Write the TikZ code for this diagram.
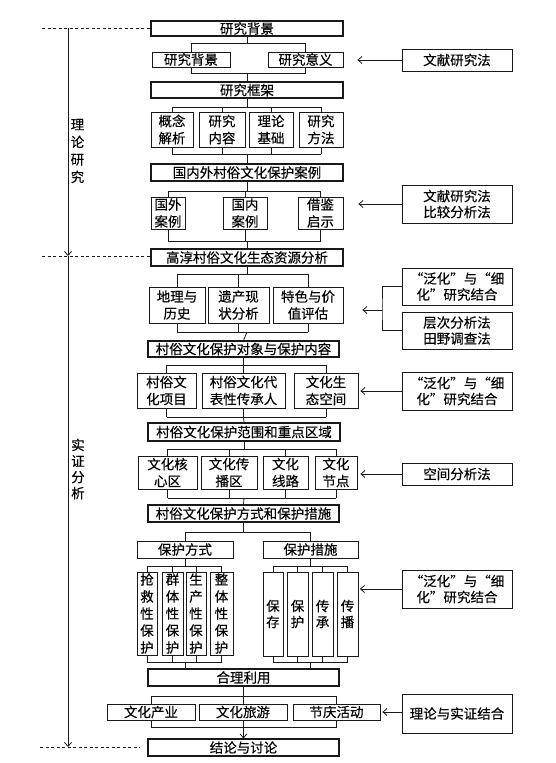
\documentclass[tikz,border=0pt]{standalone}
\usepackage{fontspec}
\newfontfamily\cjk[FakeBold=0.3]{Noto Sans CJK SC}
\usetikzlibrary{arrows.meta,calc}
\pgfdeclarelayer{bg}
\pgfdeclarelayer{conn}
\pgfsetlayers{bg,conn,main}
\newcommand\mybox[7]{\node[#2, minimum width={#5-#3}, minimum height={#6-#4}] (#1) at ({(#3+#5)/2},{(#4+#6)/2}) {#7};}
\begin{document}
\begin{tikzpicture}[x=1pt,y=-1pt,
 line/.style={line width=0.8pt, draw=black!90},
 box/.style={draw=black!90, line width=0.8pt, fill=white, inner sep=0pt, align=center, text=black, font=\cjk\fontsize{13.5}{17}\selectfont},
 mbox/.style={box, line width=1.1pt},
 tbox/.style={box, line width=1.5pt},
 meth/.style={box, font=\cjk\fontsize{13.5}{16}\selectfont},
 wbox/.style={box, font=\cjk\fontsize{13.5}{16}\selectfont},
 arr/.style={line, -{Straight Barb[length=4pt,width=7pt]}},
 dashline/.style={line, dash pattern=on 3pt off 2.5pt},
 side/.style={inner sep=0pt, align=center, text=black, font=\cjk\fontsize{13.5}{17.5}\selectfont}
]
\useasboundingbox (0,0) rectangle (555,763);
\begin{pgfonlayer}{bg}
\fill[white] (0,0) rectangle (555,763);
\end{pgfonlayer}

% main column
\mybox{t1}{tbox}{151}{21}{343}{36}{研究背景}
\mybox{b21}{box}{152}{52}{230}{67}{研究背景}
\mybox{b22}{box}{268}{52}{343}{67}{研究意义}
\mybox{t2}{tbox}{151}{82}{343}{98}{研究框架}
\mybox{b41}{box}{151}{112}{193}{147}{概念\\解析}
\mybox{b42}{box}{199}{112}{245}{147}{研究\\内容}
\mybox{b43}{box}{249}{112}{293}{147}{理论\\基础}
\mybox{b44}{box}{299}{112}{343}{147}{研究\\方法}
\mybox{t3}{tbox}{151}{164}{343}{181}{国内外村俗文化保护案例}
\mybox{b61}{box}{151}{197}{185}{229}{国外\\案例}
\mybox{b62}{box}{223}{197}{267}{229}{国内\\案例}
\mybox{b63}{box}{298}{197}{343}{229}{借鉴\\启示}
\mybox{t4}{mbox}{151}{249}{343}{266}{高淳村俗文化生态资源分析}
\mybox{b81}{box}{149}{287}{205}{323}{地理与\\历史}
\mybox{b82}{box}{208}{287}{269}{323}{遗产现\\状分析}
\mybox{b83}{box}{273}{287}{343}{323}{特色与价\\值评估}
\mybox{t5}{mbox}{148}{341}{339}{357}{村俗文化保护对象与保护内容}
\mybox{b101}{box}{137}{373}{196}{408}{村俗文\\化项目}
\mybox{b102}{box}{202}{373}{285}{408}{村俗文化代\\表性传承人}
\mybox{b103}{box}{294}{373}{358}{408}{文化生\\态空间}
\mybox{t6}{mbox}{148}{423}{340}{441}{村俗文化保护范围和重点区域}
\mybox{b121}{box}{138}{456}{197}{489}{文化核\\心区}
\mybox{b122}{box}{201}{456}{257}{489}{文化传\\播区}
\mybox{b123}{box}{263}{456}{308}{489}{文化\\线路}
\mybox{b124}{box}{315}{456}{357}{489}{文化\\节点}
\mybox{t7}{mbox}{148}{505}{339}{522}{村俗文化保护方式和保护措施}
\mybox{b141}{box}{137}{541}{233}{558}{保护方式}
\mybox{b142}{box}{263}{541}{358}{558}{保护措施}
\mybox{v1}{box}{137}{572}{157}{655}{抢\\救\\性\\保\\护}
\mybox{v2}{box}{162}{572}{183}{655}{群\\体\\性\\保\\护}
\mybox{v3}{box}{186}{572}{206}{655}{生\\产\\性\\保\\护}
\mybox{v4}{box}{210}{572}{233}{655}{整\\体\\性\\保\\护}
\mybox{w1}{wbox}{263}{572}{283}{656}{保\\存}
\mybox{w2}{wbox}{287}{572}{308}{656}{保\\护}
\mybox{w3}{wbox}{312}{572}{333}{656}{传\\承}
\mybox{w4}{wbox}{337}{572}{358}{656}{传\\播}
\mybox{t8}{mbox}{148}{669}{339}{686}{合理利用}
\mybox{b171}{box}{107}{704}{195}{720}{文化产业}
\mybox{b172}{box}{199}{704}{287}{720}{文化旅游}
\mybox{b173}{box}{293}{704}{380}{720}{节庆活动}
\mybox{t9}{mbox}{148}{739}{339}{756}{结论与讨论}

% method boxes
\mybox{m1}{meth}{402}{49}{512}{71}{文献研究法}
\mybox{m2}{meth}{402}{185}{512}{223}{文献研究法\\比较分析法}
\mybox{m3}{meth}{402}{268}{512}{305}{“泛化”与“细\\化”研究结合}
\mybox{m4}{meth}{402}{312}{512}{349}{层次分析法\\田野调查法}
\mybox{m5}{meth}{402}{372}{512}{410}{“泛化”与“细\\化”研究结合}
\mybox{m6}{meth}{402}{463}{512}{485}{空间分析法}
\mybox{m7}{meth}{402}{570}{512}{608}{“泛化”与“细\\化”研究结合}
\mybox{m8}{meth}{402}{694}{512}{733}{理论与实证结合}

% side labels
\node[side] (lt) at (77.5,151) {理\\论\\研\\究};
\node[side, font=\cjk\fontsize{13.5}{16}\selectfont] (ls) at (78,469) {实\\证\\分\\析};

% side axis
\coordinate (s1) at (68,28);
\coordinate (s2) at (68,256);
\coordinate (s3) at (68,747);
\coordinate (d1) at (42,28);
\coordinate (d2) at (42,256);
\coordinate (d3) at (40,747);
\coordinate (d3e) at (140,747);
\draw[dashline] (d1) -- (d1 -| t1.west);
\draw[dashline] (d2) -- (d2 -| t4.west);
\draw[dashline] (d3) -- (d3e);
\draw[arr] (s1) -- (s2);
\draw[arr] (s2) -- (s3);

% connectors
\begin{pgfonlayer}{conn}
\coordinate (r2a) at (0,43); \coordinate (r2b) at (0,73);
\draw[line] (t1.south) -- (t1.south |- r2a);
\draw[line] (b21.center |- r2a) rectangle (b22.center |- r2b);
\draw[line] (t1.south |- r2b) -- (t2.north);

\coordinate (r4a) at (0,107); \coordinate (r4b) at (0,154);
\draw[line] (t2.south) -- (t2.south |- r4a);
\foreach \c in {b41,b42,b43,b44} \draw[line] (\c.center |- r4a) -- (\c.center |- r4b);
\draw[line] (b41.center |- r4a) -- (b44.center |- r4a) (b41.center |- r4b) -- (b44.center |- r4b);
\draw[line] (t2.south |- r4b) -- (t3.north);

\coordinate (r6a) at (0,191); \coordinate (r6b) at (0,241);
\draw[line] (t3.south) -- (t3.south |- r6a);
\foreach \c in {b61,b62,b63} \draw[line] (\c.center |- r6a) -- (\c.center |- r6b);
\draw[line] (b61.center |- r6a) -- (b63.center |- r6a) (b61.center |- r6b) -- (b63.center |- r6b);
\draw[line] (t3.south |- r6b) -- (t4.north);

\coordinate (r8a) at (0,274); \coordinate (r8b) at (0,332);
\draw[line] (t4.south) -- (t4.south |- r8a);
\foreach \c in {b81,b82,b83} \draw[line] (\c.center |- r8a) -- (\c.center |- r8b);
\draw[line] (b81.center |- r8a) -- (b83.center |- r8a) (b81.center |- r8b) -- (b83.center |- r8b);
\draw[line] (t4.south |- r8b) -- (t5.north);

\coordinate (r10a) at (0,365); \coordinate (r10b) at (0,417);
\draw[line] (t5.south) -- (t5.south |- r10a);
\foreach \c in {b101,b102,b103} \draw[line] (\c.center |- r10a) -- (\c.center |- r10b);
\draw[line] (b101.center |- r10a) -- (b103.center |- r10a) (b101.center |- r10b) -- (b103.center |- r10b);
\draw[line] (t5.south |- r10b) -- (t6.north);

\coordinate (r12a) at (0,449); \coordinate (r12b) at (0,498);
\draw[line] (t6.south) -- (t6.south |- r12a);
\foreach \c in {b121,b122,b123,b124} \draw[line] (\c.center |- r12a) -- (\c.center |- r12b);
\draw[line] (b121.center |- r12a) -- (b124.center |- r12a) (b121.center |- r12b) -- (b124.center |- r12b);
\draw[line] (t6.south |- r12b) -- (t7.north);

\coordinate (r14) at (0,532);
\draw[line] (t7.south) -- (t7.south |- r14);
\draw[line] (b141.north |- r14) -- (b142.north |- r14);
\draw[line] (b141.north |- r14) -- (b141.north);
\draw[line] (b142.north |- r14) -- (b142.north);

\coordinate (r15a) at (0,566); \coordinate (r15b) at (0,662);
\draw[line] (b141.south) -- (b141.south |- r15a);
\foreach \c in {v1,v2,v3,v4} \draw[line] (\c.center |- r15a) -- (\c.center |- r15b);
\draw[line] (v1.center |- r15a) -- (v4.center |- r15a) (v1.center |- r15b) -- (v4.center |- r15b);
\draw[line] (b141.south |- r15b) -- (b141.south |- t8.north);
\draw[line] (b142.south) -- (b142.south |- r15a);
\foreach \c in {w1,w2,w3,w4} \draw[line] (\c.center |- r15a) -- (\c.center |- r15b);
\draw[line] (w1.center |- r15a) -- (w4.center |- r15a) (w1.center |- r15b) -- (w4.center |- r15b);
\draw[line] (b142.south |- r15b) -- (b142.south |- t8.north);

\coordinate (r17a) at (0,696); \coordinate (r17b) at (0,727);
\draw[line] (t8.south) -- (t8.south |- r17a);
\foreach \c in {b171,b172,b173} \draw[line] (\c.center |- r17a) -- (\c.center |- r17b);
\draw[line] (b171.center |- r17a) -- (b173.center |- r17a) (b171.center |- r17b) -- (b173.center |- r17b);
\end{pgfonlayer}
\draw[arr] (t8.south |- r17b) -- (t9.north);

% method arrows
\draw[arr, shorten >=14pt] (m1.west) -- (m1.west -| b22.east);
\draw[arr, shorten >=15pt] (m2.west) -- (m2.west -| b63.east);
\coordinate (br) at (382,310);
\draw[line] (m3.west) -| (br) |- (m4.west);
\draw[arr, shorten >=19pt] (br) -- (br -| b83.east);
\draw[arr, shorten >=2pt] (m5.west) -- (m5.west -| b103.east);
\draw[arr, shorten >=3pt] (m6.west) -- (m6.west -| b124.east);
\draw[arr, shorten >=1.5pt] (m7.west) -- (m7.west -| w4.east);
\draw[arr, shorten >=2pt] (b173.east -| m8.west) -- (b173.east);
\end{tikzpicture}
\end{document}
